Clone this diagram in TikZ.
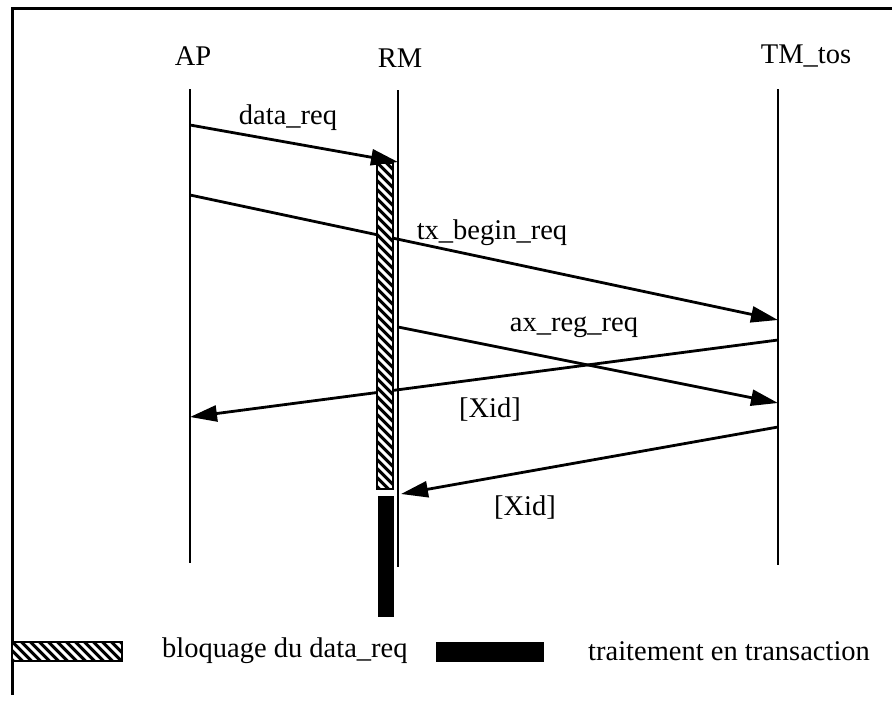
\documentclass[tikz,border=0pt]{standalone}
\usepackage{fontspec}
\setmainfont{Liberation Serif}
\usetikzlibrary{arrows.meta}
\tikzset{
  frameline/.style={line width=3pt},
  life/.style={line width=2.6pt},
  msg/.style={line width=2.8pt, -{Triangle[length=27pt,width=16pt]}},
  lbl/.style={font=\fontsize{28.5}{32}\selectfont, inner sep=0pt},
  hatchline/.style={white, line width=3pt},
  hatchborder/.style={draw=black, line width=1.6pt},
  solidbar/.style={fill=black, draw=black, line width=1pt},
}
% hatched box: corners (x1,y1) and (x2,y2)
\newcommand\hatchbox[4]{%
  \begin{scope}
    \clip (#1,#2) rectangle (#3,#4);
    \fill[black] (#1,#2) rectangle (#3,#4);
    \foreach \s in {-140,-131,...,520}
      \draw[hatchline] (#1-20,#2+\s-20) -- (#1+600,#2+\s+600);
  \end{scope}
  \draw[hatchborder] (#1,#2) rectangle (#3,#4);
}
\begin{document}
\begin{tikzpicture}[x=1pt,y=-1pt]
\useasboundingbox (0,0) rectangle (892,702);
% frame
\coordinate (fr) at (892,8);
\coordinate (fc) at (12,8);
\coordinate (fb) at (12,695);
\draw[frameline] (fr) -- (fc) -- (fb);
% headers
\node[lbl] (ap) at (193,56) {AP};
\node[lbl] (rm) at (400,58) {RM};
\node[lbl] (tm) at (806,56) {TM\_tos};
% lifelines
\coordinate (apT) at (190,89);  \coordinate (apB) at (190,563);
\coordinate (rmT) at (398,90);  \coordinate (rmB) at (398,567);
\coordinate (tmT) at (778,89);  \coordinate (tmB) at (778,565);
\draw[life] (apT) -- (apB);
\draw[life] (rmT) -- (rmB);
\draw[life] (tmT) -- (tmB);
% message end points
\coordinate (a1) at (190,125); \coordinate (r1) at (398,162);
\coordinate (a2) at (190,195); \coordinate (t2) at (778,320);
\coordinate (r3) at (398,327); \coordinate (t3) at (778,403);
\coordinate (t4) at (778,340); \coordinate (a4) at (190,417);
\coordinate (t5) at (778,427); \coordinate (r5) at (401,494);
% messages
\draw[msg] (a1) -- (r1);
\draw[msg] (a2) -- (t2);
\draw[msg] (r3) -- (t3);
\draw[msg] (t4) -- (a4);
\draw[msg] (t5) -- (r5);
% labels
\node[lbl] (l1) at (288,118) {data\_req};
\node[lbl] (l2) at (492,233) {tx\_begin\_req};
\node[lbl] (l3) at (574,327) {ax\_reg\_req};
\node[lbl] (l4) at (490,410) {[Xid]};
\node[lbl] (l5) at (525,508) {[Xid]};
% activation bars
\hatchbox{377}{163}{393}{489}
\draw[solidbar] (378,496) rectangle (393,616);
% legend
\hatchbox{12}{642}{122}{661}
\node[lbl, anchor=west] (lg1) at (162,651) {bloquage du data\_req};
\draw[solidbar] (436,642) rectangle (543,661);
\node[lbl, anchor=west] (lg2) at (588,651) {traitement en transaction};
\end{tikzpicture}
\end{document}
